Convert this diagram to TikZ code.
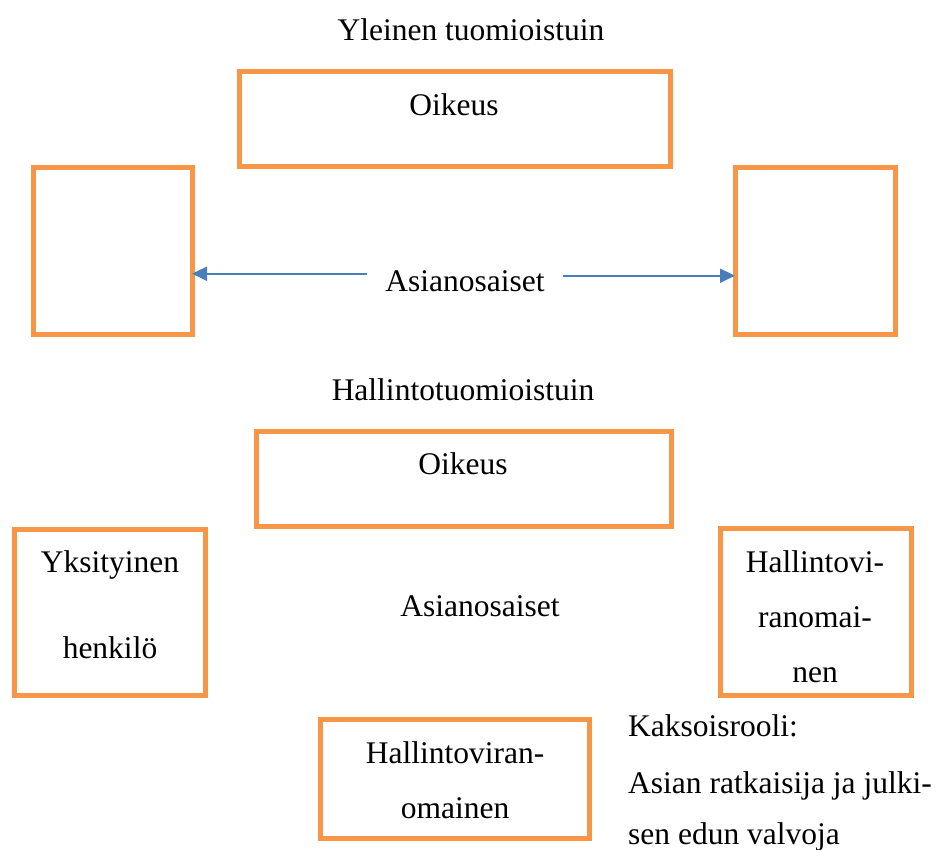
\documentclass[tikz,border=0pt]{standalone}
\usepackage{fontspec}
\setmainfont{Liberation Serif}
\usetikzlibrary{arrows.meta}
\definecolor{boxorange}{HTML}{F79646}
\definecolor{arrowblue}{HTML}{4A7EBB}
\begin{document}
\begin{tikzpicture}[x=1pt,y=-1pt,
 frame/.style={draw=boxorange, line width=5pt, inner sep=0pt, outer sep=0pt},
 txt/.style={font=\fontsize{31.5}{38}\selectfont, anchor=base, inner sep=0pt},
 asn/.style={txt, inner xsep=18pt},
 arr/.style={draw=arrowblue, line width=2pt, -{Triangle[length=15pt,width=14pt]}}]
\useasboundingbox (0,0) rectangle (943,850);
% upper part
\node[txt] (t1) at (471,41) {Yleinen tuomioistuin};
\node[frame, minimum width=431pt, minimum height=95pt] (oik1) at (454.5,119.5) {};
\node[txt] (oik1t) at (454,116) {Oikeus};
\node[frame, minimum width=159pt, minimum height=167pt] (lb1) at (112.5,251.5) {};
\node[frame, minimum width=160pt, minimum height=167pt] (rb1) at (815,251.5) {};
\node[asn] (as1) at (465,292) {Asianosaiset};
\coordinate (a1) at ([yshift=8pt]as1.west);
\coordinate (a2) at ([yshift=6pt]as1.east);
\draw[arr] (a1) -- (lb1.east |- a1);
\draw[arr] (a2) -- (rb1.west |- a2);
% lower part
\node[txt] (t2) at (463,401) {Hallintotuomioistuin};
\node[frame, minimum width=415pt, minimum height=95pt] (oik2) at (463.5,478.5) {};
\node[txt] (oik2t) at (463,474) {Oikeus};
\node[frame, minimum width=191pt, minimum height=166pt] (lb2) at (109.5,612) {};
\node[txt] (lb2a) at (110,572) {Yksityinen};
\node[txt] (lb2b) at (110,658) {henkilö};
\node[txt] (as2) at (480,616) {Asianosaiset};
\node[frame, minimum width=191pt, minimum height=167pt] (rb2) at (815.5,611.5) {};
\node[txt] (rb2a) at (815,572) {Hallintovi-};
\node[txt] (rb2b) at (815,627) {ranomai-};
\node[txt] (rb2c) at (815,682) {nen};
\node[frame, minimum width=269pt, minimum height=119pt] (bb) at (454.5,778.5) {};
\node[txt] (bba) at (455,763) {Hallintoviran-};
\node[txt] (bbb) at (455,818) {omainen};
\node[txt, anchor=base west] (k1) at (628,736) {Kaksoisrooli:};
\node[txt, anchor=base west] (k2) at (628,793) {Asian ratkaisija ja julki-};
\node[txt, anchor=base west] (k3) at (628,844) {sen edun valvoja};
\end{tikzpicture}
\end{document}
